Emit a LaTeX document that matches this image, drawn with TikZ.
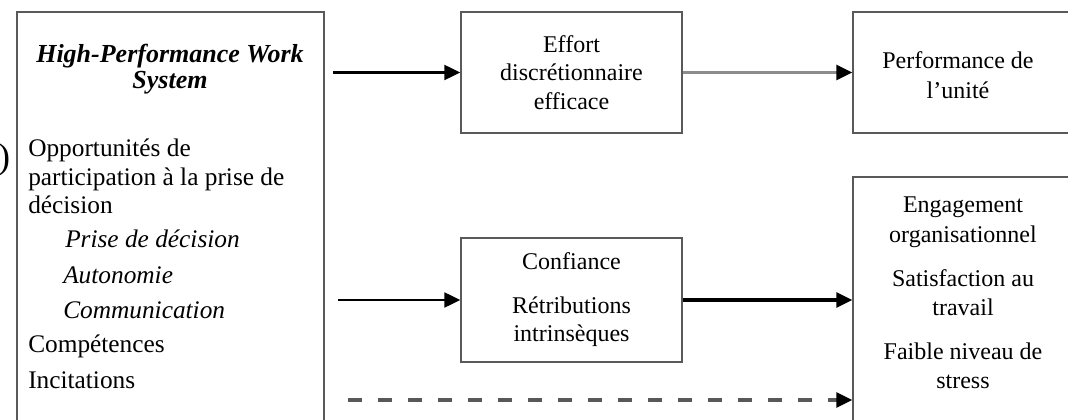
\documentclass[tikz,border=0pt]{standalone}
\usepackage{fontspec}
\setmainfont{Liberation Serif}
\usetikzlibrary{arrows.meta}
\begin{document}
\begin{tikzpicture}[x=0.75pt,y=-0.75pt,
  box/.style={draw=black!65,line width=0.9pt,rectangle,inner sep=0pt},
  txt/.style={inner sep=0pt,font=\fontsize{18}{21.5}\selectfont},
  ltxt/.style={inner sep=0pt,anchor=base west,font=\fontsize{19}{22}\selectfont},
  itxt/.style={inner sep=0pt,anchor=base west,font=\fontsize{19}{22}\selectfont\itshape},
  tip/.style={-{Triangle[length=12pt,width=11pt,color=black]}},
  arr/.style={line width=2.2pt,tip},
]
\useasboundingbox (0,0) rectangle (1068,420);
\begin{scope}
\clip (0,0) rectangle (1068,420);
% boxes
\node[box,minimum width=230.25pt,minimum height=321pt] (hpws) at (170.5,226) {};
\node[box,minimum width=165.75pt,minimum height=90.75pt,align=center,txt] (effort) at (571.5,72.5) {Effort\\discrétionnaire\\efficace};
\node[box,minimum width=170.25pt,minimum height=90.75pt] (perf) at (966.5,72.5) {};
\node[box,minimum width=165.75pt,minimum height=93pt,align=center,txt] (conf) at (571.5,300) {Confiance\\[11pt]Rétributions\\intrinsèques};
\node[box,minimum width=170.25pt,minimum height=197.25pt] (eng) at (966.5,308.5) {};
% texts
\node[inner sep=0pt,align=center,font=\fontsize{19.5}{20}\selectfont\bfseries\itshape] (title) at (170,69) {High-Performance Work\\System};
\node[ltxt] (l1) at (28,157) {Opportunités de};
\node[ltxt] (l2) at (28,186) {participation à la prise de};
\node[ltxt] (l3) at (28,214) {décision};
\node[itxt] (l4) at (65,248) {Prise de décision};
\node[itxt] (l5) at (63,284) {Autonomie};
\node[itxt] (l6) at (63,319) {Communication};
\node[ltxt] (l7) at (28,353) {Compétences};
\node[ltxt] (l8) at (28,388) {Incitations};
\node[txt,align=center,font=\fontsize{18}{22.5}\selectfont] (perftxt) at (958,75) {Performance de\\l’unité};
\node[txt,align=center,font=\fontsize{18}{22}\selectfont] (engtxt) at (963,293) {Engagement\\organisationnel\\[11pt]Satisfaction au\\travail\\[11pt]Faible niveau de\\stress};
\node[inner sep=0pt,font=\fontsize{27}{27}\selectfont] (paren) at (4,160) {)};
% connectors
\coordinate (s1) at (333,72.5);
\coordinate (s3) at (338,300);
\coordinate (s5) at (348,400);
\draw[arr] (s1) -- (effort.west);
\draw[arr,draw=black!45,line width=2.8pt] (effort.east) -- (perf.west);
\draw[arr] (s3) -- (conf.west);
\draw[arr,line width=2.8pt] (conf.east) -- (conf.east -| eng.west);
\draw[arr,line width=2.6pt,draw=black!65,dash pattern=on 10.5pt off 12pt] (s5) -- (s5 -| eng.west);
\end{scope}
\end{tikzpicture}
\end{document}
